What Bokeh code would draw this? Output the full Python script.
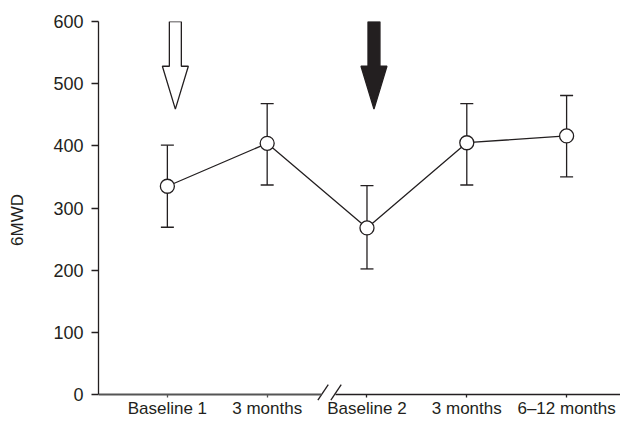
from bokeh.plotting import figure
from bokeh.models import (Range1d, FixedTicker, LinearAxis, ColumnDataSource,
                          Whisker, TeeHead)
from bokeh.embed import file_html
from bokeh.resources import INLINE

# ---- data ----
categories = ["Baseline 1", "3 months", "Baseline 2", "3 months", "6\u201312 months"]
positions = [1, 2, 3, 4, 5]
means = [335, 404, 268, 405, 416]
lower = [269, 337, 202, 337, 350]
upper = [401, 468, 336, 468, 481]
y_ticks = [0, 100, 200, 300, 400, 500, 600]
y_label = "6MWD"

left_group = [0, 1]
right_group = [2, 3, 4]

# ---- annotation geometry (data units) ----
x_start, x_end = 0.31, 5.54
y_start, y_end = -38.6, 600
break_left, break_right = 2.54, 2.68
slash_centers = [2.56, 2.69]
slash_dx, slash_y0, slash_y1 = 0.052, -9, 16
arrow_x = [1.08, 3.07]
arrow_fill = ["white", "#231f20"]
arrow_top, arrow_neck, arrow_tip = 600, 528, 459
shaft_hw, head_hw = 0.06, 0.13

INK = "#231f20"
FONT = "Liberation Sans"

p = figure(width=620, height=418, x_range=Range1d(x_start, x_end),
           y_range=Range1d(y_start, y_end), output_backend="svg",
           toolbar_location=None, x_axis_location=None, y_axis_location="left",
           min_border_left=98, min_border_right=0, min_border_top=21,
           min_border_bottom=0)
p.outline_line_color = None
p.grid.visible = False
p.background_fill_color = "white"
p.border_fill_color = "white"

ya = p.yaxis[0]
ya.ticker = FixedTicker(ticks=y_ticks)
ya.bounds = (0, 600)
ya.axis_line_color = INK
ya.axis_line_width = 1.3
ya.major_tick_line_color = INK
ya.major_tick_line_width = 1.3
ya.major_tick_out = 7
ya.major_tick_in = 0
ya.minor_tick_line_color = None
ya.major_label_standoff = 8
ya.major_label_text_font = FONT
ya.major_label_text_font_size = "18px"
ya.major_label_text_color = INK
ya.axis_label = y_label
ya.axis_label_text_font = FONT
ya.axis_label_text_font_size = "17px"
ya.axis_label_text_font_style = "normal"
ya.axis_label_text_color = INK
ya.axis_label_standoff = 23

def make_xaxis(idx, bounds, color, width):
    ax = LinearAxis(fixed_location=0, bounds=bounds,
                    ticker=FixedTicker(ticks=[positions[i] for i in idx]),
                    major_label_overrides={positions[i]: categories[i] for i in idx})
    ax.axis_line_color = color
    ax.axis_line_width = width
    ax.major_tick_line_color = color
    ax.major_tick_line_width = 1.3
    ax.major_tick_out = 3
    ax.major_tick_in = 0
    ax.minor_tick_line_color = None
    ax.major_label_standoff = 1
    ax.major_label_text_font = FONT
    ax.major_label_text_font_size = "17px"
    ax.major_label_text_color = INK
    p.add_layout(ax, "below")
    return ax

make_xaxis(left_group, (x_start, break_left), "#555555", 2)
make_xaxis(right_group, (break_right, x_end), INK, 1.3)

p.segment(x0=[c - slash_dx for c in slash_centers], y0=[slash_y0] * 2,
          x1=[c + slash_dx for c in slash_centers], y1=[slash_y1] * 2,
          line_color=INK, line_width=1.3)

axs, ays = [], []
for ax_ in arrow_x:
    axs.append([ax_ - shaft_hw, ax_ - shaft_hw, ax_ - head_hw, ax_,
                ax_ + head_hw, ax_ + shaft_hw, ax_ + shaft_hw])
    ays.append([arrow_top, arrow_neck, arrow_neck, arrow_tip,
                arrow_neck, arrow_neck, arrow_top])
p.patches(xs=axs, ys=ays, fill_color=arrow_fill, line_color=INK, line_width=1.3)

src = ColumnDataSource(dict(x=positions, y=means, lower=lower, upper=upper))
w = Whisker(base="x", upper="upper", lower="lower", source=src,
            line_color=INK, line_width=1.3,
            upper_head=TeeHead(size=13, line_color=INK, line_width=1.3),
            lower_head=TeeHead(size=13, line_color=INK, line_width=1.3))
p.add_layout(w)
p.line(x="x", y="y", source=src, line_color=INK, line_width=1.3)
p.scatter(x="x", y="y", source=src, size=14, fill_color="white",
          line_color=INK, line_width=1.3)

open("out.html", "w").write(file_html(p, INLINE))
